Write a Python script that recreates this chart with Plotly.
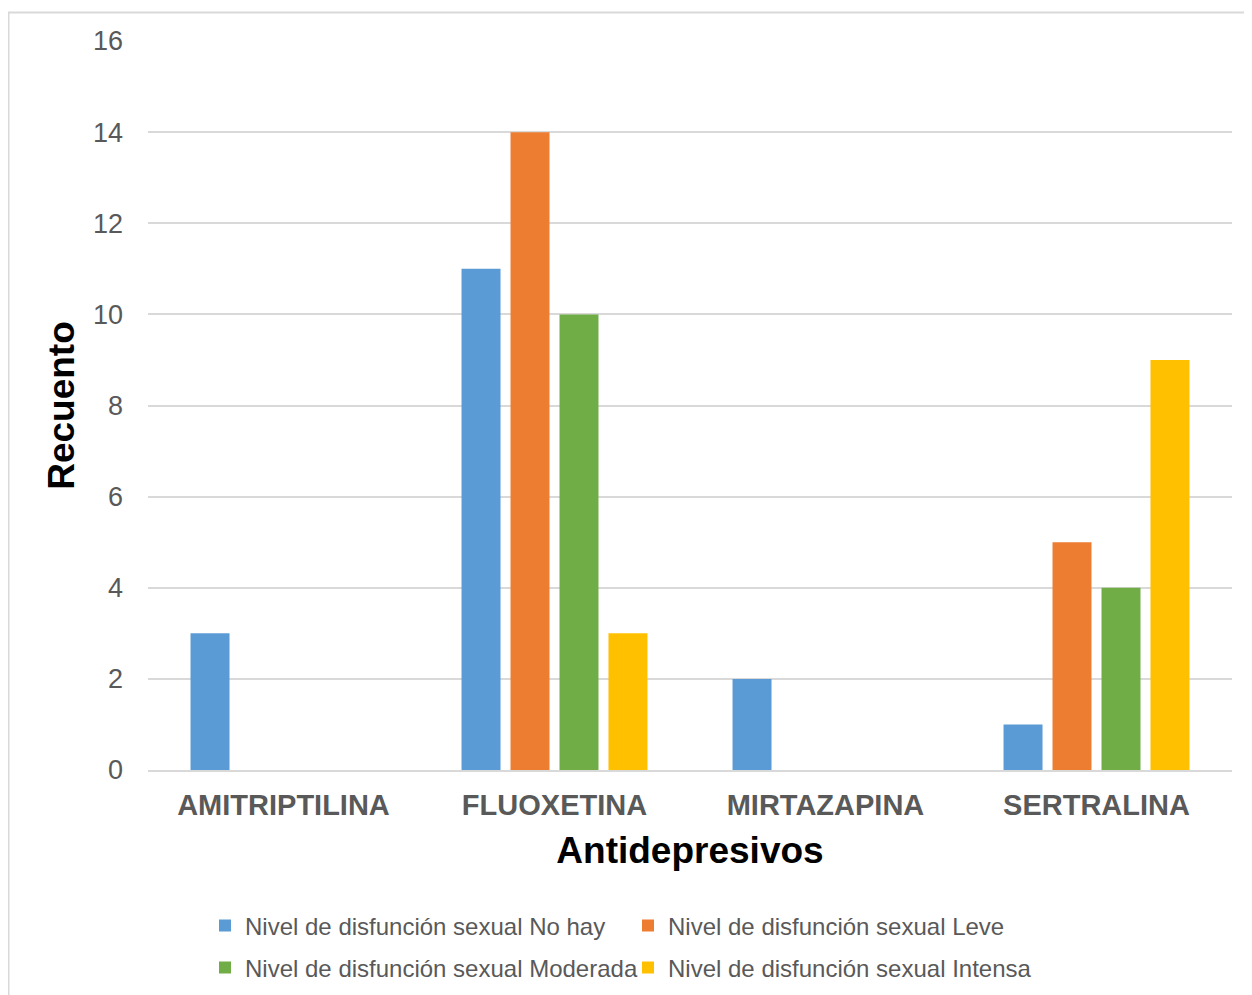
import plotly.graph_objects as go

categories = ["AMITRIPTILINA", "FLUOXETINA", "MIRTAZAPINA", "SERTRALINA"]
series_names = [
    "Nivel de disfunción sexual No hay",
    "Nivel de disfunción sexual Leve",
    "Nivel de disfunción sexual Moderada",
    "Nivel de disfunción sexual Intensa",
]
no_hay = [3, 11, 2, 1]
leve = [0, 14, 0, 5]
moderada = [0, 10, 0, 4]
intensa = [0, 3, 0, 9]
colors = ["#5B9BD5", "#ED7D31", "#70AD47", "#FFC000"]
y_ticks = [0, 2, 4, 6, 8, 10, 12, 14, 16]

# page offset from default body margin
OFF = 8
W, H = 1252 - OFF, 995 - OFF
L = 148 - OFF
T = 41 - OFF
R = W - (1232 - OFF)
B = H - (770 - OFF)
pw, ph = W - L - R, H - T - B

def px_x(p):
    return (p - OFF - L) / pw

def px_y(p):
    return (H - B - (p - OFF)) / ph

fig = go.Figure()
values = [no_hay, leve, moderada, intensa]
legends = ["legend", "legend", "legend2", "legend2"]
for name, vals, col, lg in zip(series_names, values, colors, legends):
    fig.add_trace(go.Bar(
        x=categories, y=vals, name=name,
        marker=dict(color=col, line=dict(width=0)),
        legend=lg,
    ))

font_family = "Liberation Sans, Arial, sans-serif"
legend_common = dict(
    orientation="h",
    font=dict(family=font_family, size=24, color="#595959"),
    entrywidth=378, entrywidthmode="pixels",
    xref="container", yref="container",
    xanchor="left", yanchor="middle",
    bgcolor="rgba(0,0,0,0)",
    itemclick=False, itemdoubleclick=False,
    tracegroupgap=0,
)

fig.update_layout(
    width=W, height=H,
    margin=dict(l=L, r=R, t=T, b=B, pad=0, autoexpand=False),
    paper_bgcolor="white", plot_bgcolor="white",
    barmode="group", bargap=0.277, bargroupgap=0.204,
    font=dict(family=font_family, color="#595959"),
    xaxis=dict(
        showgrid=False, showline=True, linecolor="#d9d9d9", linewidth=2,
        tickfont=dict(family=font_family, size=29, color="#595959", weight="bold"),
        ticklabelstandoff=8, automargin=False,
        title=dict(text="<b>Antidepresivos</b>", font=dict(family=font_family, size=37, color="black"), standoff=17),
    ),
    yaxis=dict(
        range=[0, 16], tickvals=y_ticks, showgrid=True, gridcolor="#d9d9d9", gridwidth=1.5,
        zeroline=False, showline=False, automargin=False,
        tickfont=dict(family=font_family, size=27, color="#595959"),
        ticklabelstandoff=24,
        title=dict(text="<b>Recuento</b>", font=dict(family=font_family, size=37, color="black"), standoff=7),
    ),
    legend=dict(x=(205 - OFF) / W, y=1 - (926 - OFF) / H, **legend_common),
    legend2=dict(x=(205 - OFF) / W, y=1 - (968 - OFF) / H, **legend_common),
    shapes=[dict(
        type="rect", xref="paper", yref="paper",
        x0=px_x(8.5), x1=px_x(1270), y0=px_y(1010), y1=px_y(12.5),
        line=dict(color="#d9d9d9", width=2), layer="below",
    )],
)

fig.write_html("out.html")
